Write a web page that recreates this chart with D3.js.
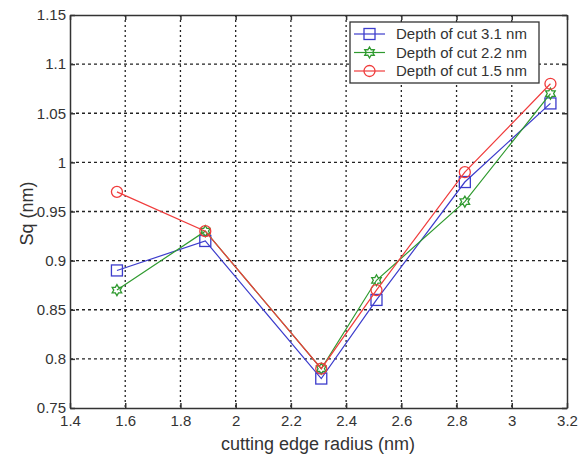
<!DOCTYPE html>
<html>
<head>
<meta charset="utf-8">
<script src="https://cdn.jsdelivr.net/npm/d3@7"></script>
<style>
  html, body { margin: 0; padding: 0; background: #fff; }
  svg { display: block; font-family: "Liberation Sans", Arial, sans-serif; }
</style>
</head>
<body>
<svg id="chart" width="578" height="455"></svg>
<script>
// Cutting edge radius values (nm)
const radius = [1.57, 1.89, 2.31, 2.51, 2.83, 3.14];
// Surface roughness Sq (nm) for each depth of cut
const sq31 = [0.89, 0.92, 0.78, 0.86, 0.98, 1.06];
const sq22 = [0.87, 0.93, 0.79, 0.88, 0.96, 1.07];
const sq15 = [0.97, 0.93, 0.79, 0.87, 0.99, 1.08];
const seriesNames = ["Depth of cut 3.1 nm", "Depth of cut 2.2 nm", "Depth of cut 1.5 nm"];
const xTicks = [1.4, 1.6, 1.8, 2, 2.2, 2.4, 2.6, 2.8, 3, 3.2];
const yTicks = [0.75, 0.8, 0.85, 0.9, 0.95, 1, 1.05, 1.1, 1.15];

const series = [
  { name: seriesNames[0], values: sq31, color: "#3c3ccc", marker: "square" },
  { name: seriesNames[1], values: sq22, color: "#2f9a2f", marker: "hexagram" },
  { name: seriesNames[2], values: sq15, color: "#f03c3c", marker: "circle" }
];

const svg = d3.select("#chart");
const plotL = 70, plotR = 567, plotT = 15, plotB = 408;

const x = d3.scaleLinear().domain([1.4, 3.2]).range([plotL, plotR]);
const y = d3.scaleLinear().domain([0.75, 1.15]).range([plotB, plotT]);

const fmt = d => String(+d.toFixed(2));

// Dotted grid
const grid = svg.append("g");
grid.selectAll("line.gx").data(xTicks.slice(1, -1)).join("line")
  .attr("x1", d => x(d)).attr("x2", d => x(d))
  .attr("y1", plotT).attr("y2", plotB)
  .attr("stroke", "#222").attr("stroke-width", 1.3).attr("stroke-dasharray", "2,3");
grid.selectAll("line.gy").data(yTicks.slice(1, -1)).join("line")
  .attr("x1", plotL).attr("x2", plotR)
  .attr("y1", d => y(d)).attr("y2", d => y(d))
  .attr("stroke", "#222").attr("stroke-width", 1.3).attr("stroke-dasharray", "3,3");

// Axes (ticks point inward)
const axisStyle = g => {
  g.select(".domain").attr("stroke", "#333").attr("stroke-width", 1.5);
  g.selectAll(".tick line").attr("stroke", "#333").attr("stroke-width", 1.5);
  g.selectAll(".tick text").attr("fill", "#333").attr("font-size", 15)
    .attr("font-family", "'Liberation Sans', Arial, sans-serif");
};
svg.append("g").attr("transform", `translate(0,${plotB})`)
  .call(d3.axisBottom(x).tickValues(xTicks).tickFormat(fmt).tickSizeInner(-5).tickSizeOuter(0).tickPadding(7))
  .call(axisStyle);
svg.append("g").attr("transform", `translate(${plotL},0)`)
  .call(d3.axisLeft(y).tickValues(yTicks).tickFormat(fmt).tickSizeInner(-5).tickSizeOuter(0).tickPadding(4))
  .call(axisStyle);
svg.append("g").attr("transform", `translate(0,${plotT})`)
  .call(d3.axisTop(x).tickValues(xTicks).tickFormat("").tickSizeInner(-5).tickSizeOuter(0))
  .call(axisStyle);
svg.append("g").attr("transform", `translate(${plotR},0)`)
  .call(d3.axisRight(y).tickValues(yTicks).tickFormat("").tickSizeInner(-5).tickSizeOuter(0))
  .call(axisStyle);

// Axis titles
svg.append("text").attr("x", 318).attr("y", 450)
  .attr("text-anchor", "middle").attr("font-size", 18).attr("fill", "#333")
  .text("cutting edge radius (nm)");
svg.append("text").attr("transform", `translate(33,${(plotT + plotB) / 2 + 2}) rotate(-90)`)
  .attr("text-anchor", "middle").attr("font-size", 18).attr("fill", "#333")
  .text("Sq (nm)");

// Marker shapes
function hexagramPath(r) {
  const pts = [];
  for (let i = 0; i < 12; i++) {
    const a = -Math.PI / 2 + i * Math.PI / 6;
    const rr = i % 2 === 0 ? r : r * 0.58;
    pts.push([rr * Math.cos(a), rr * Math.sin(a)]);
  }
  return "M" + pts.map(p => p.join(",")).join("L") + "Z";
}
function drawMarker(g, type, cx, cy, color) {
  if (type === "square") {
    g.append("rect").attr("x", cx - 5.5).attr("y", cy - 5.5).attr("width", 11).attr("height", 11)
      .attr("fill", "none").attr("stroke", color).attr("stroke-width", 1.3);
  } else if (type === "circle") {
    g.append("circle").attr("cx", cx).attr("cy", cy).attr("r", 5.5)
      .attr("fill", "none").attr("stroke", color).attr("stroke-width", 1.3);
  } else {
    g.append("path").attr("d", hexagramPath(5.5)).attr("transform", `translate(${cx},${cy})`)
      .attr("fill", "none").attr("stroke", color).attr("stroke-width", 1.3);
  }
}

// Series lines and markers
const line = d3.line().x((d, i) => x(radius[i])).y(d => y(d));
series.forEach(s => {
  const g = svg.append("g");
  g.append("path").datum(s.values).attr("d", line)
    .attr("fill", "none").attr("stroke", s.color).attr("stroke-width", 1.2);
  s.values.forEach((v, i) => drawMarker(g, s.marker, x(radius[i]), y(v), s.color));
});

// Legend
const lg = svg.append("g");
lg.append("rect").attr("x", 350).attr("y", 22).attr("width", 189).attr("height", 61)
  .attr("fill", "#fff").attr("stroke", "#333").attr("stroke-width", 1.3);
series.forEach((s, i) => {
  const ly = 34 + i * 18.5;
  lg.append("line").attr("x1", 354).attr("x2", 385).attr("y1", ly).attr("y2", ly)
    .attr("stroke", s.color).attr("stroke-width", 1.2);
  drawMarker(lg, s.marker, 369.5, ly, s.color);
  lg.append("text").attr("x", 396).attr("y", ly + 5).attr("font-size", 15).attr("fill", "#333")
    .text(s.name);
});
</script>
</body>
</html>
